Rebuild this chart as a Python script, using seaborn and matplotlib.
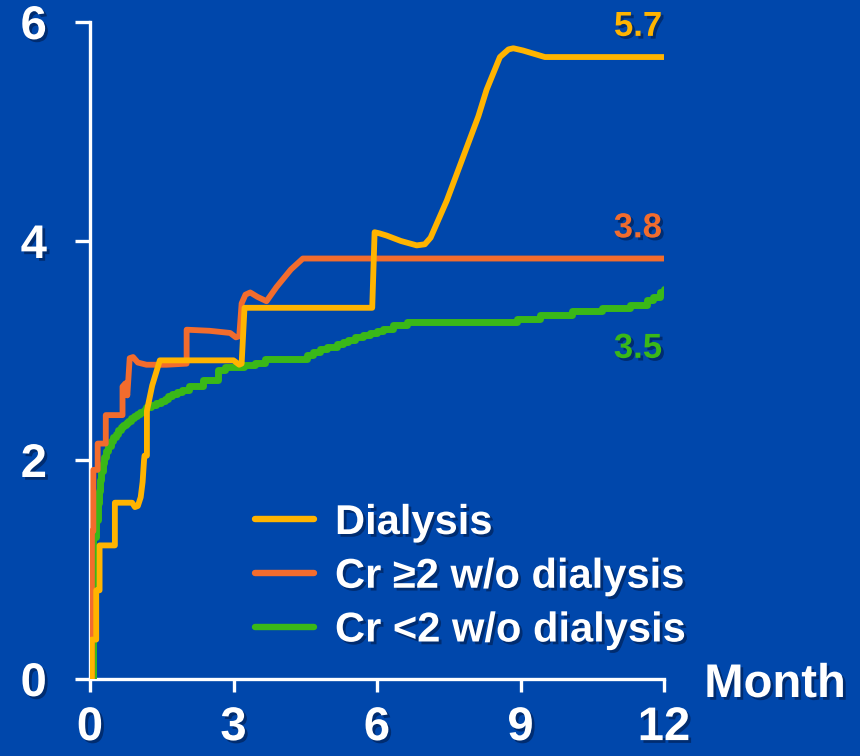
import matplotlib
matplotlib.use("Agg")
import matplotlib.pyplot as plt
import matplotlib.patheffects as pe
from matplotlib.lines import Line2D
import seaborn as sns
import pandas as pd

# ---- data: cumulative incidence (%) over months ----
dialysis_month = [0.035, 0.035, 0.13, 0.13, 0.20, 0.20, 0.52, 0.52, 0.88, 0.94, 1.00, 1.06,
                  1.10, 1.13, 1.14, 1.19, 1.19, 1.30, 1.46, 3.00, 3.12, 3.17, 3.23, 5.90,
                  5.95, 6.05, 6.20, 6.50, 6.83, 7.00, 7.12, 7.46, 8.12, 8.29, 8.57, 8.75,
                  8.85, 9.05, 9.51, 12.0]
dialysis_value = [0.00, 0.36, 0.36, 0.81, 0.81, 1.22, 1.22, 1.61, 1.61, 1.57, 1.58, 1.66,
                  1.80, 2.00, 2.04, 2.04, 2.45, 2.68, 2.91, 2.91, 2.87, 2.88, 3.39, 3.39,
                  4.08, 4.07, 4.05, 4.00, 3.96, 3.97, 4.03, 4.37, 5.14, 5.38, 5.68, 5.75,
                  5.76, 5.74, 5.68, 5.68]

cr_high_month = [0.04, 0.04, 0.07, 0.07, 0.16, 0.16, 0.33, 0.33, 0.68, 0.68, 0.74, 0.78,
                 0.83, 0.90, 1.00, 1.18, 1.60, 2.02, 2.02, 2.50, 2.93, 3.05, 3.12, 3.17,
                 3.25, 3.35, 3.50, 3.69, 3.90, 4.20, 4.45, 12.0]
cr_high_value = [0.00, 1.35, 1.35, 1.91, 1.91, 2.15, 2.15, 2.41, 2.41, 2.67, 2.70, 2.59,
                 2.93, 2.94, 2.89, 2.87, 2.87, 2.88, 3.19, 3.18, 3.16, 3.12, 3.13, 3.43,
                 3.51, 3.53, 3.49, 3.45, 3.58, 3.74, 3.84, 3.84]

cr_low_month = [0.00, 0.06, 0.12, 0.17, 0.19, 0.21, 0.24, 0.27, 0.30, 0.34, 0.38, 0.43,
                0.49, 0.54, 0.59, 0.65, 0.70, 0.75, 0.80, 0.86, 0.91, 0.98, 1.05, 1.12,
                1.18, 1.28, 1.39, 1.48, 1.57, 1.64, 1.71, 1.81, 1.92, 2.06, 2.37, 2.68,
                2.82, 3.21, 3.45, 3.66, 4.53, 4.67, 4.81, 4.95, 5.16, 5.28, 5.40, 5.55,
                5.71, 5.85, 6.00, 6.13, 6.34, 6.62, 8.92, 9.41, 10.07, 10.70, 11.29, 11.64,
                11.78, 11.92, 12.0]
cr_low_value = [0.00, 1.30, 1.45, 1.61, 1.72, 1.82, 1.90, 1.97, 2.03, 2.08, 2.13, 2.17,
                2.21, 2.24, 2.27, 2.30, 2.32, 2.34, 2.36, 2.38, 2.40, 2.42, 2.44, 2.46,
                2.48, 2.50, 2.52, 2.54, 2.56, 2.58, 2.60, 2.62, 2.64, 2.68, 2.73, 2.82,
                2.85, 2.87, 2.89, 2.92, 2.96, 2.99, 3.01, 3.03, 3.06, 3.08, 3.10, 3.12,
                3.14, 3.16, 3.18, 3.20, 3.23, 3.26, 3.29, 3.32, 3.36, 3.39, 3.42, 3.46,
                3.49, 3.53, 3.56]

series_labels = ["Dialysis", "Cr \u22652 w/o dialysis", "Cr <2 w/o dialysis"]
end_labels = ["5.7", "3.8", "3.5"]
end_label_y = [5.96, 4.12, 3.02]
x_ticks = [0, 3, 6, 9, 12]
y_ticks = [0, 2, 4, 6]

# ---- style ----
BG = "#0047AB"
YELLOW = "#FFB400"
ORANGE = "#F26C2D"
GREEN = "#3AB818"
colors = [YELLOW, ORANGE, GREEN]

sns.set_theme(style="ticks")
plt.rcParams["font.family"] = ["Liberation Sans", "DejaVu Sans"]
plt.rcParams["font.weight"] = "bold"

shadow = [pe.withSimplePatchShadow(offset=(2, -2), shadow_rgbFace="#001640", alpha=0.55)]

fig = plt.figure(figsize=(8.6, 7.56), dpi=100, facecolor=BG)
ax = fig.add_axes([90 / 860, 1 - 679 / 756, 574 / 860, 657 / 756])
ax.set_facecolor(BG)

df_d = pd.DataFrame({"month": dialysis_month, "value": dialysis_value})
df_h = pd.DataFrame({"month": cr_high_month, "value": cr_high_value})
df_l = pd.DataFrame({"month": cr_low_month, "value": cr_low_value})

sns.lineplot(data=df_l, x="month", y="value", ax=ax, color=GREEN, lw=5.0,
             estimator=None, sort=False, drawstyle="steps-post", zorder=3)
sns.lineplot(data=df_h, x="month", y="value", ax=ax, color=ORANGE, lw=4.2,
             estimator=None, sort=False, zorder=4)
sns.lineplot(data=df_d, x="month", y="value", ax=ax, color=YELLOW, lw=4.2,
             estimator=None, sort=False, zorder=5)

ax.set_xlim(0, 12)
ax.set_ylim(0, 6)
ax.set_xticks(x_ticks)
ax.set_yticks(y_ticks)
ax.set_xlabel("")
ax.set_ylabel("")

for side in ("top", "right"):
    ax.spines[side].set_visible(False)
for side in ("left", "bottom"):
    ax.spines[side].set_color("white")
    ax.spines[side].set_linewidth(2.4)
    ax.spines[side].set_zorder(2)

ax.tick_params(axis="x", direction="out", length=9.5, width=2.4, color="white",
               labelcolor="white", labelsize=34, pad=10)
ax.tick_params(axis="y", direction="out", length=11, width=2.4, color="white",
               labelcolor="white", labelsize=34, pad=20)
for lab in ax.get_xticklabels() + ax.get_yticklabels():
    lab.set_fontweight("bold")
    lab.set_path_effects(shadow)

# end-of-curve values
for txt, yv, c in zip(end_labels, end_label_y, colors):
    ax.text(11.96, yv, txt, color=c, fontsize=25, fontweight="bold",
            ha="right", va="center", path_effects=shadow, clip_on=False)

# axis title placed to the right of the x axis
fig.text(775 / 860, 1 - 697 / 756, "Month", color="white", fontsize=34,
         fontweight="bold", ha="center", va="baseline", path_effects=shadow)

handles = [Line2D([0], [0], color=c, lw=4.6) for c in colors]
leg = ax.legend(handles, series_labels, loc="upper left",
                bbox_to_anchor=(255 / 860, 1 - 503 / 756), bbox_transform=fig.transFigure,
                frameon=False, fontsize=30, handlelength=1.42, handletextpad=0.5,
                labelspacing=0.33, borderpad=0, borderaxespad=0)
for t in leg.get_texts():
    t.set_color("white")
    t.set_fontweight("bold")
    t.set_path_effects(shadow)

fig.savefig("out.png", dpi=100, facecolor=BG)
